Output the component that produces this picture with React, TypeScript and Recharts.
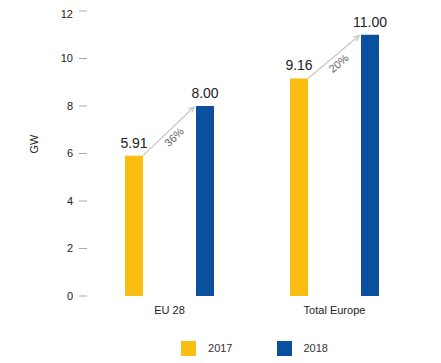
import React from "react";
import { BarChart, Bar, XAxis, YAxis, Legend, LabelList } from "recharts";

const regions = ["EU 28", "Total Europe"];
const values2017 = [5.91, 9.16];
const values2018 = [8.0, 11.0];
const growth = ["36%", "20%"];
const yTicks = [0, 2, 4, 6, 8, 10, 12];

const data = regions.map((r, i) => ({ name: r, y2017: values2017[i], y2018: values2018[i] }));

const FONT = "'Liberation Sans', Arial, Helvetica, sans-serif";
const YELLOW = "#FBBD12";
const BLUE = "#0B4F9F";
const BAR_GAP = 53;

// arrow from top of 2017 bar to top of 2018 bar, with the growth label
function GrowthArrow(props: any) {
  const { x, y, width, height, value, index } = props;
  const k = height / value;
  const x1 = x + width;
  const y1 = y;
  const x2 = x + width + BAR_GAP - 2;
  const y2 = y + height - values2018[index] * k + 1;
  const ang = Math.atan2(y2 - y1, x2 - x1);
  const deg = (ang * 180) / Math.PI;
  const mx = (x1 + x2) / 2;
  const my = (y1 + y2) / 2;
  const nx = -Math.sin(ang);
  const ny = Math.cos(ang);
  const lx = mx + nx * 9;
  const ly = my + ny * 9;
  const ah = 6;
  const a1x = x2 - ah * Math.cos(ang - 0.45);
  const a1y = y2 - ah * Math.sin(ang - 0.45);
  const a2x = x2 - ah * Math.cos(ang + 0.45);
  const a2y = y2 - ah * Math.sin(ang + 0.45);
  return (
    <g>
      <line x1={x1} y1={y1} x2={x2} y2={y2} stroke="#c8c8c8" strokeWidth={1.3} />
      <polyline points={`${a1x},${a1y} ${x2},${y2} ${a2x},${a2y}`} fill="none" stroke="#c8c8c8" strokeWidth={1.3} />
      <text
        x={lx}
        y={ly}
        transform={`rotate(${deg} ${lx} ${ly})`}
        textAnchor="middle"
        dominantBaseline="middle"
        fontSize={11}
        fill="#666"
        fontFamily={FONT}
      >
        {growth[index]}
      </text>
    </g>
  );
}

function LegendContent() {
  const items = [
    { label: "2017", color: YELLOW },
    { label: "2018", color: BLUE },
  ];
  return (
    <div style={{ height: 24, display: "flex", justifyContent: "center", alignItems: "center", paddingLeft: 84, fontFamily: FONT, fontSize: 11, color: "#333" }}>
      {items.map((it, i) => (
        <div key={it.label} style={{ display: "flex", alignItems: "center", marginLeft: i ? 44 : 0 }}>
          <div style={{ width: 15, height: 15, background: it.color, marginRight: 12 }} />
          <span>{it.label}</span>
        </div>
      ))}
    </div>
  );
}

export default function App() {
  return (
    <div style={{ width: 425, height: 355, background: "#fff" }}>
      <BarChart
        width={425}
        height={355}
        data={data}
        margin={{ top: 3, right: 16, bottom: 3, left: 0 }}
        barSize={18}
        barGap={BAR_GAP}
      >
        <XAxis
          dataKey="name"
          axisLine={false}
          tickLine={false}
          tickSize={6}
          tickMargin={4}
          height={40}
          tick={{ fontSize: 11, fill: "#222", fontFamily: FONT }}
        />
        <YAxis
          domain={[0, 12]}
          ticks={yTicks}
          width={79}
          axisLine={false}
          tickSize={8}
          tickMargin={6}
          tickLine={{ stroke: "#aaa" }}
          tick={{ fontSize: 11, fill: "#222", fontFamily: FONT }}
          label={{ value: "GW", angle: -90, position: "insideLeft", offset: 26, style: { fontSize: 11, fill: "#222", fontFamily: FONT } }}
        />
        <Legend verticalAlign="bottom" content={<LegendContent />} />
        <Bar dataKey="y2017" fill={YELLOW} isAnimationActive={false}>
          <LabelList dataKey="y2017" position="top" offset={8} formatter={(v: any) => Number(v).toFixed(2)} style={{ fontSize: 14, fill: "#222", fontFamily: FONT, fontWeight: 500 }} />
          <LabelList dataKey="y2017" content={<GrowthArrow />} />
        </Bar>
        <Bar dataKey="y2018" fill={BLUE} isAnimationActive={false}>
          <LabelList dataKey="y2018" position="top" offset={8} formatter={(v: any) => Number(v).toFixed(2)} style={{ fontSize: 14, fill: "#222", fontFamily: FONT, fontWeight: 500 }} />
        </Bar>
      </BarChart>
    </div>
  );
}
